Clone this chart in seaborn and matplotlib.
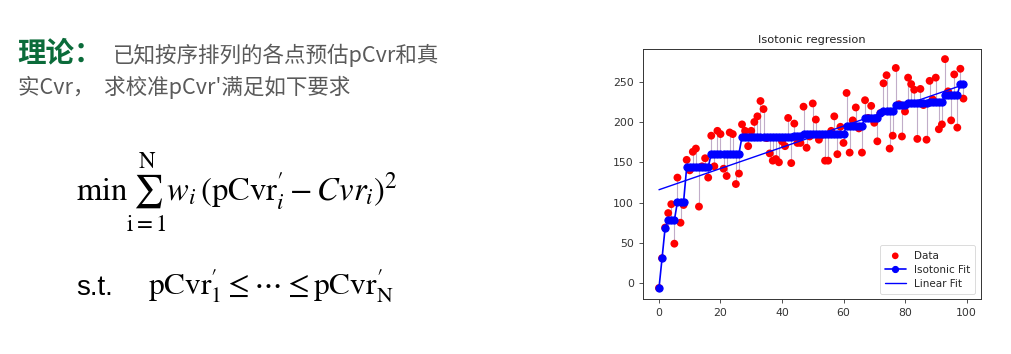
import numpy as np
import matplotlib
matplotlib.use("Agg")
import matplotlib.pyplot as plt
import seaborn as sns

# ---- data ----
x_idx = list(range(100))
y_data = [
    -6, 31, 69, 87, 98, 49, 131, 75, 97, 153,
    140, 163, 167, 95, 145, 155, 131, 183, 145, 189,
    185, 142, 133, 187, 185, 123, 136, 197, 189, 170,
    189, 200, 207, 226, 216, 180, 161, 152, 154, 150,
    176, 170, 205, 149, 198, 174, 174, 219, 168, 182,
    223, 203, 178, 184, 152, 152, 189, 207, 160, 194,
    174, 236, 162, 202, 218, 192, 162, 227, 205, 220,
    199, 176, 211, 248, 258, 167, 183, 267, 222, 182,
    213, 255, 247, 240, 179, 241, 221, 178, 251, 228,
    255, 191, 197, 278, 238, 202, 259, 193, 266, 229,
]
x_ticks = [0, 20, 40, 60, 80, 100]
y_ticks = [0, 50, 100, 150, 200, 250]
title = "Isotonic regression"
legend_labels = ["Data", "Isotonic Fit", "Linear Fit"]

heading = "理论："
line1 = "已知按序排列的各点预估pCvr和真"
line2 = "实Cvr，  求校准pCvr'满足如下要求"


def pava(values):
    blocks = []
    for v in values:
        blocks.append([float(v), 1])
        while len(blocks) > 1 and blocks[-2][0] > blocks[-1][0]:
            v2, n2 = blocks.pop()
            v1, n1 = blocks.pop()
            blocks.append([(v1 * n1 + v2 * n2) / (n1 + n2), n1 + n2])
    out = []
    for v, n in blocks:
        out.extend([v] * n)
    return np.array(out)


x = np.array(x_idx, dtype=float)
y = np.array(y_data, dtype=float)
y_iso = pava(y)
slope, intercept = np.polyfit(x, y, 1)
y_lin = slope * x + intercept

sns.set_style("ticks")
plt.rcParams["font.family"] = ["DejaVu Sans"]

fig = plt.figure(figsize=(10.11, 3.54), dpi=100)
fig.patch.set_facecolor("white")

ax = fig.add_axes([0.636, 0.1545, 0.334, 0.707])
ax.vlines(x, y, y_iso, colors="#8e6a9e", alpha=0.55, linewidth=0.8, zorder=0)
sns.scatterplot(x=x, y=y, color="red", s=32, edgecolor="none",
                label=legend_labels[0], ax=ax, zorder=2)
sns.lineplot(x=x, y=y_iso, color="blue", marker="o", markersize=5.2,
             markeredgecolor="blue", linewidth=1.2, label=legend_labels[1],
             ax=ax, zorder=3)
sns.lineplot(x=x, y=y_lin, color="blue", linewidth=1.0,
             label=legend_labels[2], ax=ax, zorder=3)

ax.set_xlim(-5.2, 104.6)
ax.set_ylim(-20, 290.5)
ax.set_xticks(x_ticks)
ax.set_yticks(y_ticks)
ax.tick_params(labelsize=7.8, length=3, width=0.6, colors="#333333")
for s in ax.spines.values():
    s.set_visible(True)
    s.set_linewidth(0.7)
    s.set_color("#333333")
ax.set_title(title, fontsize=8.2, color="#222222", pad=4)
leg = ax.legend(loc="lower right", fontsize=7.5, frameon=True,
                fancybox=True, borderpad=0.5, labelspacing=0.4,
                markerscale=0.85)
leg.get_frame().set_edgecolor("#cccccc")
leg.get_frame().set_linewidth(0.6)

W, H = 1011, 354
cjk = ["Noto Sans CJK SC", "DejaVu Sans"]
fig.text(17 / W, 1 - 53 / H, heading, family=cjk, fontsize=20.5,
         fontweight="bold", color="#0b6b3a", va="center", ha="left")
fig.text(112 / W, 1 - 55 / H, line1, family=cjk, fontsize=15.5,
         color="#5a5a5a", va="center", ha="left")
fig.text(18 / W, 1 - 87 / H, line2, family=cjk, fontsize=15.5,
         color="#5a5a5a", va="center", ha="left")

fig.text(76 / W, 1 - 200 / H,
         r"$\min\sum_{\mathrm{i=1}}^{\mathrm{N}} w_i\,(\mathrm{pCvr}_i^{\prime}-Cvr_i)^2$",
         math_fontfamily="stix", fontsize=23.5, color="black",
         va="baseline", ha="left")
fig.text(76 / W, 1 - 295 / H, "s.t.", family=["Liberation Sans"],
         fontsize=20, color="black", va="baseline", ha="left")
fig.text(148 / W, 1 - 295 / H,
         r"$\mathrm{pCvr}_{\mathrm{1}}^{\prime}\leq\cdots\leq\mathrm{pCvr}_{\mathrm{N}}^{\prime}$",
         math_fontfamily="stix", fontsize=22.5, color="black",
         va="baseline", ha="left")

fig.savefig("out.png", dpi=100, facecolor="white")
